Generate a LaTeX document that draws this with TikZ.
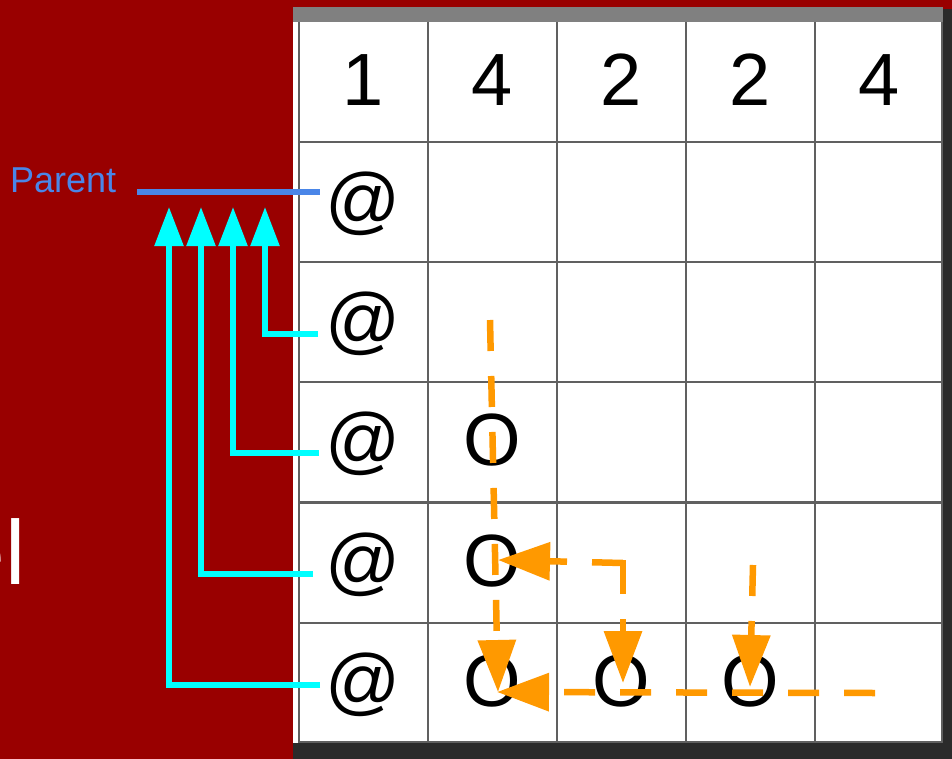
\documentclass[tikz,border=0pt]{standalone}
\usepackage{fontspec}
\setmainfont{Liberation Sans}
\usetikzlibrary{arrows.meta}
\definecolor{bgred}{HTML}{990000}
\definecolor{orng}{HTML}{FF9900}
\definecolor{cyn}{HTML}{00FFFF}
\definecolor{pblue}{HTML}{4A86E8}
\definecolor{gridgray}{HTML}{606060}
\definecolor{bargray}{HTML}{808080}
\definecolor{framedark}{HTML}{2B2B2B}
\begin{document}
\begin{tikzpicture}[x=1pt,y=-1pt,
  cell/.style={anchor=base,inner sep=0pt,font=\fontsize{74}{80}\selectfont},
  gridline/.style={draw=gridgray,line width=2.6pt},
  cyanarrow/.style={draw=cyn,line width=5.5pt,-{Triangle[length=39pt,width=28pt]}},
  orangearrow/.style={draw=orng,line width=6.5pt,dash pattern=on 31pt off 25pt,-{Triangle[length=52pt,width=37pt]}},
  parentline/.style={draw=pblue,line width=6pt},
]
\fill[bgred] (0,0) rectangle (952,759);
\useasboundingbox (0,0) rectangle (952,759);
% table image
\fill[white] (293,22) rectangle (943,743);
\fill[bargray] (293,7) rectangle (943,22);
\fill[framedark] (943,9) rectangle (952,759);
\fill[framedark] (293,743) rectangle (952,759);
\foreach \x in {299,428,557,686,815,942}
  \draw[gridline] (\x,22) -- (\x,743);
\foreach \y in {142,262,382,502.5,623,742}
  \draw[gridline] (299,\y) -- (943,\y);
% header digits
\node[cell] (h1) at (363.5,105.5) {1};
\node[cell] (h2) at (492.5,105.5) {4};
\node[cell] (h3) at (621.5,105.5) {2};
\node[cell] (h4) at (750.5,105.5) {2};
\node[cell] (h5) at (879.5,105.5) {4};
% @ column
\node[cell] (a1) at (363.5,225.5) {@};
\node[cell] (a2) at (363.5,345.5) {@};
\node[cell] (a3) at (363.5,465.5) {@};
\node[cell] (a4) at (363.5,586) {@};
\node[cell] (a5) at (363.5,706.5) {@};
% O cells
\node[cell] (o3) at (492.5,465.5) {O};
\node[cell] (o4) at (492.5,586) {O};
\node[cell] (o5a) at (492.5,706.5) {O};
\node[cell] (o5b) at (621.5,706.5) {O};
\node[cell] (o5c) at (750.5,706.5) {O};
% left texts
\node[anchor=base east,inner sep=0pt,text=white,font=\fontsize{91}{96}\selectfont] (title) at (26,584) {el};
\node[anchor=base west,inner sep=0pt,text=pblue,font=\fontsize{36}{40}\selectfont] (parent) at (10,193) {Parent};
% parent line
\coordinate (pl) at (137,192);
\coordinate (pr) at (320,192);
\draw[parentline] (pl) -- (pr);
% cyan arrows
\coordinate (c2) at (318,334);
\coordinate (c3) at (319,453);
\coordinate (c4) at (313,574);
\coordinate (c5) at (320,685);
\coordinate (t2) at (265,207);
\coordinate (t3) at (233,207);
\coordinate (t4) at (201,207);
\coordinate (t5) at (169,207);
\draw[cyanarrow] (c2) -| (t2);
\draw[cyanarrow] (c3) -| (t3);
\draw[cyanarrow] (c4) -| (t4);
\draw[cyanarrow] (c5) -| (t5);
% orange arrows
\coordinate (s1) at (490,320);
\coordinate (e1) at (498,692);
\draw[orangearrow] (s1) -- (e1);
\coordinate (k) at (623,563);
\coordinate (e2a) at (498,560);
\coordinate (e2b) at (623,683);
\draw[orangearrow] (k) -- (e2a);
\draw[orangearrow] (k) -- (e2b);
\fill[orng] ([shift={(-3.25,-3.25)}]k) rectangle ([shift={(3.25,3.25)}]k);
\coordinate (s3) at (753,565);
\coordinate (e3) at (750,687);
\draw[orangearrow] (s3) -- (e3);
\coordinate (s4) at (875,693);
\coordinate (e4) at (497,692);
\draw[orangearrow] (s4) -- (e4);
\end{tikzpicture}
\end{document}
